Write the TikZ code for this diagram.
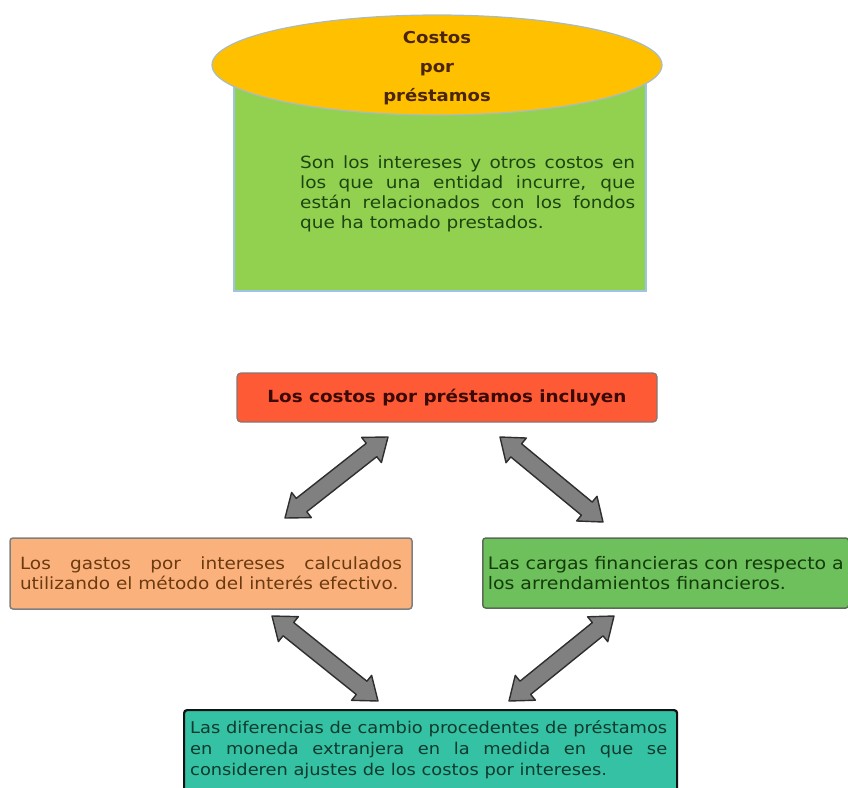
\documentclass[tikz,border=0pt]{standalone}
\usepackage{fontspec}
\newfontfamily\vf[FakeStretch=1.1]{DejaVu Sans}
\usetikzlibrary{calc,shapes.geometric}
\definecolor{ellfill}{HTML}{FFC000}
\definecolor{ellline}{HTML}{A9BCC4}
\definecolor{defill}{HTML}{92D050}
\definecolor{defline}{HTML}{9DC3E6}
\definecolor{redfill}{HTML}{FF5A36}
\definecolor{redline}{HTML}{8A7570}
\definecolor{orfill}{HTML}{FBB17C}
\definecolor{orline}{HTML}{7F7F7F}
\definecolor{grfill}{HTML}{6DC05B}
\definecolor{grline}{HTML}{5C6B58}
\definecolor{tefill}{HTML}{35C1A3}
\definecolor{teline}{HTML}{111111}
\definecolor{arfill}{HTML}{808080}
\definecolor{arline}{HTML}{2E2E2E}
\definecolor{titletxt}{HTML}{4A2508}
\definecolor{deftxt}{HTML}{1D4510}
\definecolor{redtxt}{HTML}{3A0A05}
\definecolor{ortxt}{HTML}{6B3A10}
\definecolor{grtxt}{HTML}{143C0A}
\definecolor{tetxt}{HTML}{0E3B2E}
\newcommand\blockarrow[2]{%
 \draw[blockarr] let \p1=($(#2)-(#1)$), \n1={atan2(\y1,\x1)}, \n2={veclen(\x1,\y1)} in
 {[shift={(#1)}, rotate=\n1]
 (0pt,0pt) -- (21pt,16pt) -- (21pt,8.5pt) -- (\n2-21pt,8.5pt) -- (\n2-21pt,16pt) -- (\n2-0pt,0pt)
 -- (\n2-21pt,-16pt) -- (\n2-21pt,-8.5pt) -- (21pt,-8.5pt) -- (21pt,-16pt) -- cycle};}
\begin{document}
\begin{tikzpicture}[x=1pt,y=-1pt,
  blockarr/.style={fill=arfill,draw=arline,line width=1.4pt,line join=round},
  bodyfont/.style={font=\vf\fontsize{16.8}{20}\selectfont},
  boxbase/.style={rectangle,inner ysep=0pt,align=justify}]
\useasboundingbox (0,0) rectangle (848,787);
\clip (0,0) rectangle (848,787);
% top definition block
\node[draw=defline,fill=defill,line width=1.6pt,minimum width=412pt,minimum height=225pt,anchor=north west,inner sep=0] (defbox) at (233,65) {};
\node[ellipse,draw=ellline,fill=ellfill,line width=1.2pt,minimum width=450pt,minimum height=100pt,inner sep=0] (ell) at (437,65) {};
\node[align=center,text=titletxt,font=\vf\bfseries\fontsize{16.4}{29}\selectfont,inner sep=0] (title) at (437,68) {Costos\\por\\préstamos};
\node[bodyfont,text=deftxt,text width=335pt,align=justify,anchor=north west,inner sep=0] (deftext) at (300,156)
 {Son los intereses y otros costos en\linebreak los que una entidad incurre, que\linebreak están relacionados con los fondos\linebreak que ha tomado prestados.};
% includes box
\node[rectangle,rounded corners=4pt,draw=redline,fill=redfill,line width=1.3pt,minimum width=420pt,minimum height=49pt,text=redtxt,font=\vf\bfseries\fontsize{16.7}{20}\selectfont] (incl) at (447,397.5) {Los costos por préstamos incluyen};
% orange box
\node[boxbase,rounded corners=3pt,draw=orline,fill=orfill,line width=1.5pt,bodyfont,text=ortxt,text width=382pt,inner xsep=10pt,minimum height=71pt] (gastos) at (211,573.5)
 {Los gastos por intereses calculados\linebreak utilizando el método del interés efectivo.};
% green box
\node[boxbase,rounded corners=3pt,draw=grline,fill=grfill,line width=1.5pt,font=\vf\fontsize{17.2}{20}\selectfont,text=grtxt,text width=356pt,inner xsep=5pt,minimum height=70pt,anchor=west] (cargas) at (482,573)
 {Las cargas financieras con respecto a\\ los arrendamientos financieros.};
% teal box
\node[rectangle,rounded corners=3pt,draw=teline,fill=tefill,line width=2.2pt,minimum width=493pt,minimum height=95pt,anchor=north west,inner sep=0] (dif) at (183,709) {};
\node[font=\vf\fontsize{16.2}{21}\selectfont,text=tetxt,text width=477pt,align=justify,anchor=north west,inner sep=0] (diftext) at (190,720)
 {Las diferencias de cambio procedentes de préstamos\linebreak en moneda extranjera en la medida en que se\linebreak consideren ajustes de los costos por intereses.};
% arrows
\coordinate (a1s) at (285,518); \coordinate (a1e) at (388,437);
\coordinate (a2s) at (500,437); \coordinate (a2e) at (603,522);
\coordinate (a3s) at (272,616); \coordinate (a3e) at (378,701);
\coordinate (a4s) at (509,701); \coordinate (a4e) at (614,616);
\blockarrow{a1s}{a1e}
\blockarrow{a2s}{a2e}
\blockarrow{a3s}{a3e}
\blockarrow{a4s}{a4e}
\end{tikzpicture}
\end{document}
